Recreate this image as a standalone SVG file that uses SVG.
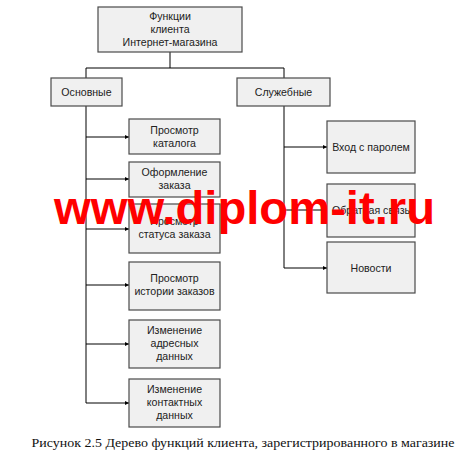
<svg xmlns="http://www.w3.org/2000/svg" width="468" height="460" viewBox="0 0 468 460">
<defs>
<marker id="arr" viewBox="0 0 6 6" refX="6" refY="3" markerWidth="4" markerHeight="4" orient="auto" markerUnits="userSpaceOnUse">
<path d="M0,0 L6,3 L0,6 z" fill="#000"/>
</marker>
</defs>
<style>
.box{fill:#f0f0f0;stroke:#4a4a4a;stroke-width:1.2}
.t{font-family:"Liberation Sans",Arial,sans-serif;font-size:10.6px;fill:#222;text-anchor:middle}
.ln{fill:none;stroke:#000;stroke-width:1}
</style>
<rect width="468" height="460" fill="#fff"/>
<g id="connectors">
<path class="ln" d="M170,52 V68 M86,68 H284 M86,68 V78 M284,68 V78"/>
<path class="ln" d="M86,106 V403"/>
<path class="ln" marker-end="url(#arr)" d="M86,137 H129"/>
<path class="ln" marker-end="url(#arr)" d="M86,179 H129"/>
<path class="ln" marker-end="url(#arr)" d="M86,229 H129"/>
<path class="ln" marker-end="url(#arr)" d="M86,285 H129"/>
<path class="ln" marker-end="url(#arr)" d="M86,344 H129"/>
<path class="ln" marker-end="url(#arr)" d="M86,403 H129"/>
<path class="ln" d="M284,106 V268"/>
<path class="ln" marker-end="url(#arr)" d="M284,147 H327"/>
<path class="ln" marker-end="url(#arr)" d="M284,210 H327"/>
<path class="ln" marker-end="url(#arr)" d="M284,268 H327"/>
</g>
<g id="root"><rect class="box" x="98" y="7" width="144" height="45"/>
<text class="t" x="170" y="20">Функции</text><text class="t" x="170" y="33">клиента</text><text class="t" x="170" y="46">Интернет-магазина</text></g>
<g id="osnovnye"><rect class="box" x="51" y="78" width="71" height="28"/><text class="t" x="86.5" y="96">Основные</text></g>
<g id="sluzhebnye"><rect class="box" x="237" y="78" width="93" height="28"/><text class="t" x="283.5" y="96">Служебные</text></g>
<g id="n1"><rect class="box" x="129" y="119" width="91" height="35"/><text class="t" x="174.5" y="134">Просмотр</text><text class="t" x="174.5" y="147">каталога</text></g>
<g id="n2"><rect class="box" x="129" y="162" width="91" height="35"/><text class="t" x="174.5" y="176">Оформление</text><text class="t" x="174.5" y="189">заказа</text></g>
<g id="n3"><rect class="box" x="129" y="204" width="91" height="49"/><text class="t" x="174.5" y="225">Просмотр</text><text class="t" x="174.5" y="238">статуса заказа</text></g>
<g id="n4"><rect class="box" x="129" y="262" width="91" height="48"/><text class="t" x="174.5" y="282">Просмотр</text><text class="t" x="174.5" y="295">истории заказов</text></g>
<g id="n5"><rect class="box" x="129" y="320" width="91" height="48"/><text class="t" x="174.5" y="334">Изменение</text><text class="t" x="174.5" y="347">адресных</text><text class="t" x="174.5" y="360">данных</text></g>
<g id="n6"><rect class="box" x="129" y="379" width="91" height="48"/><text class="t" x="174.5" y="393">Изменение</text><text class="t" x="174.5" y="406">контактных</text><text class="t" x="174.5" y="419">данных</text></g>
<g id="r1"><rect class="box" x="327" y="121" width="88" height="52"/><text class="t" x="371" y="151">Вход с паролем</text></g>
<g id="r2"><rect class="box" x="327" y="184" width="88" height="53"/><text class="t" x="371" y="214">Обратная связь</text></g>
<g id="r3"><rect class="box" x="327" y="242" width="88" height="51"/><text class="t" x="371" y="272">Новости</text></g>
<text x="54" y="224" font-family="'Liberation Sans',Arial,sans-serif" font-weight="bold" font-size="47" fill="#f00" textLength="381" lengthAdjust="spacingAndGlyphs">www.diplom-it.ru</text>
<text x="243" y="447" font-family="'Liberation Serif','Times New Roman',serif" font-size="12.5" fill="#111" text-anchor="middle" textLength="423" lengthAdjust="spacingAndGlyphs">Рисунок 2.5 Дерево функций клиента, зарегистрированного в магазине</text>
</svg>
